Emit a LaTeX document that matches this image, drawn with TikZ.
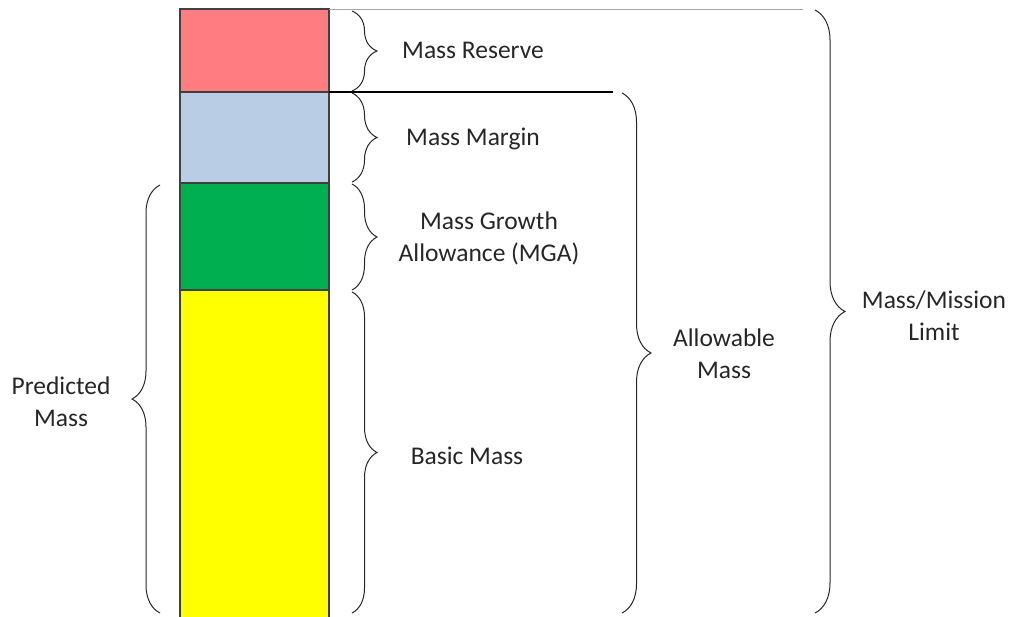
\documentclass[tikz,border=0pt]{standalone}
\usepackage{fontspec}
\setmainfont{Carlito}
\usetikzlibrary{decorations.pathreplacing}
\definecolor{cred}{HTML}{FF7C80}
\definecolor{cblue}{HTML}{B9CDE5}
\definecolor{cgreen}{HTML}{00B050}
\definecolor{cyellow}{HTML}{FFFF00}
\definecolor{edge}{HTML}{404040}
\begin{document}
\begin{tikzpicture}[x=1pt,y=-1pt,
  seg/.style={draw=edge,line width=1.3pt,minimum width=149pt,inner sep=0pt,outer sep=0pt},
  br/.style={draw=black!85,line width=1pt,decorate,decoration={brace,amplitude=#1}},
  br/.default=26,
  lbl/.style={font=\fontsize{25.5}{32}\selectfont,align=center,text=black!85}]
\useasboundingbox (0,0) rectangle (1011,617);
% column segments
\node[seg,fill=cred,minimum height=83pt,anchor=north west] (res) at (180,9) {};
\node[seg,fill=cblue,minimum height=91pt,anchor=north west] (mar) at (180,92) {};
\node[seg,fill=cgreen,minimum height=107pt,anchor=north west] (mga) at (180,183) {};
\node[seg,fill=cyellow,minimum height=330pt,anchor=north west] (bas) at (180,290) {};
% reference lines
\coordinate (topend) at (803,9);
\coordinate (midend) at (613,92);
\draw[gray!70,line width=0.8pt] (res.north east) -- (topend);
\draw[black,line width=1.3pt] (res.south east) -- (midend);
% braces on the right of the column
\coordinate (b1a) at (352,11);  \coordinate (b1b) at (352,91);
\coordinate (b2a) at (352,93);  \coordinate (b2b) at (352,182);
\coordinate (b3a) at (352,184); \coordinate (b3b) at (352,290);
\coordinate (b4a) at (352,292); \coordinate (b4b) at (352,613);
\draw[br=25] (b1a) -- (b1b);
\draw[br=25] (b2a) -- (b2b);
\draw[br=25] (b3a) -- (b3b);
\draw[br=25] (b4a) -- (b4b);
% predicted mass brace (left)
\coordinate (pa) at (160,613); \coordinate (pb) at (160,185);
\draw[br=28] (pa) -- (pb);
% allowable mass brace
\coordinate (aa) at (622,93); \coordinate (ab) at (622,613);
\draw[br=29] (aa) -- (ab);
% mass/mission limit brace
\coordinate (ma) at (815,10); \coordinate (mb) at (815,613);
\draw[br=30] (ma) -- (mb);
% labels
\node[lbl] (lres) at (473,50) {Mass Reserve};
\node[lbl] (lmar) at (473,139) {Mass Margin};
\node[lbl] (lmga) at (489,238) {Mass Growth\\Allowance (MGA)};
\node[lbl] (lbas) at (467,456) {Basic Mass};
\node[lbl] (lall) at (724,354) {Allowable\\Mass};
\node[lbl] (llim) at (934,316) {Mass/Mission\\Limit};
\node[lbl] (lpre) at (61,402) {Predicted\\Mass};
\end{tikzpicture}
\end{document}
